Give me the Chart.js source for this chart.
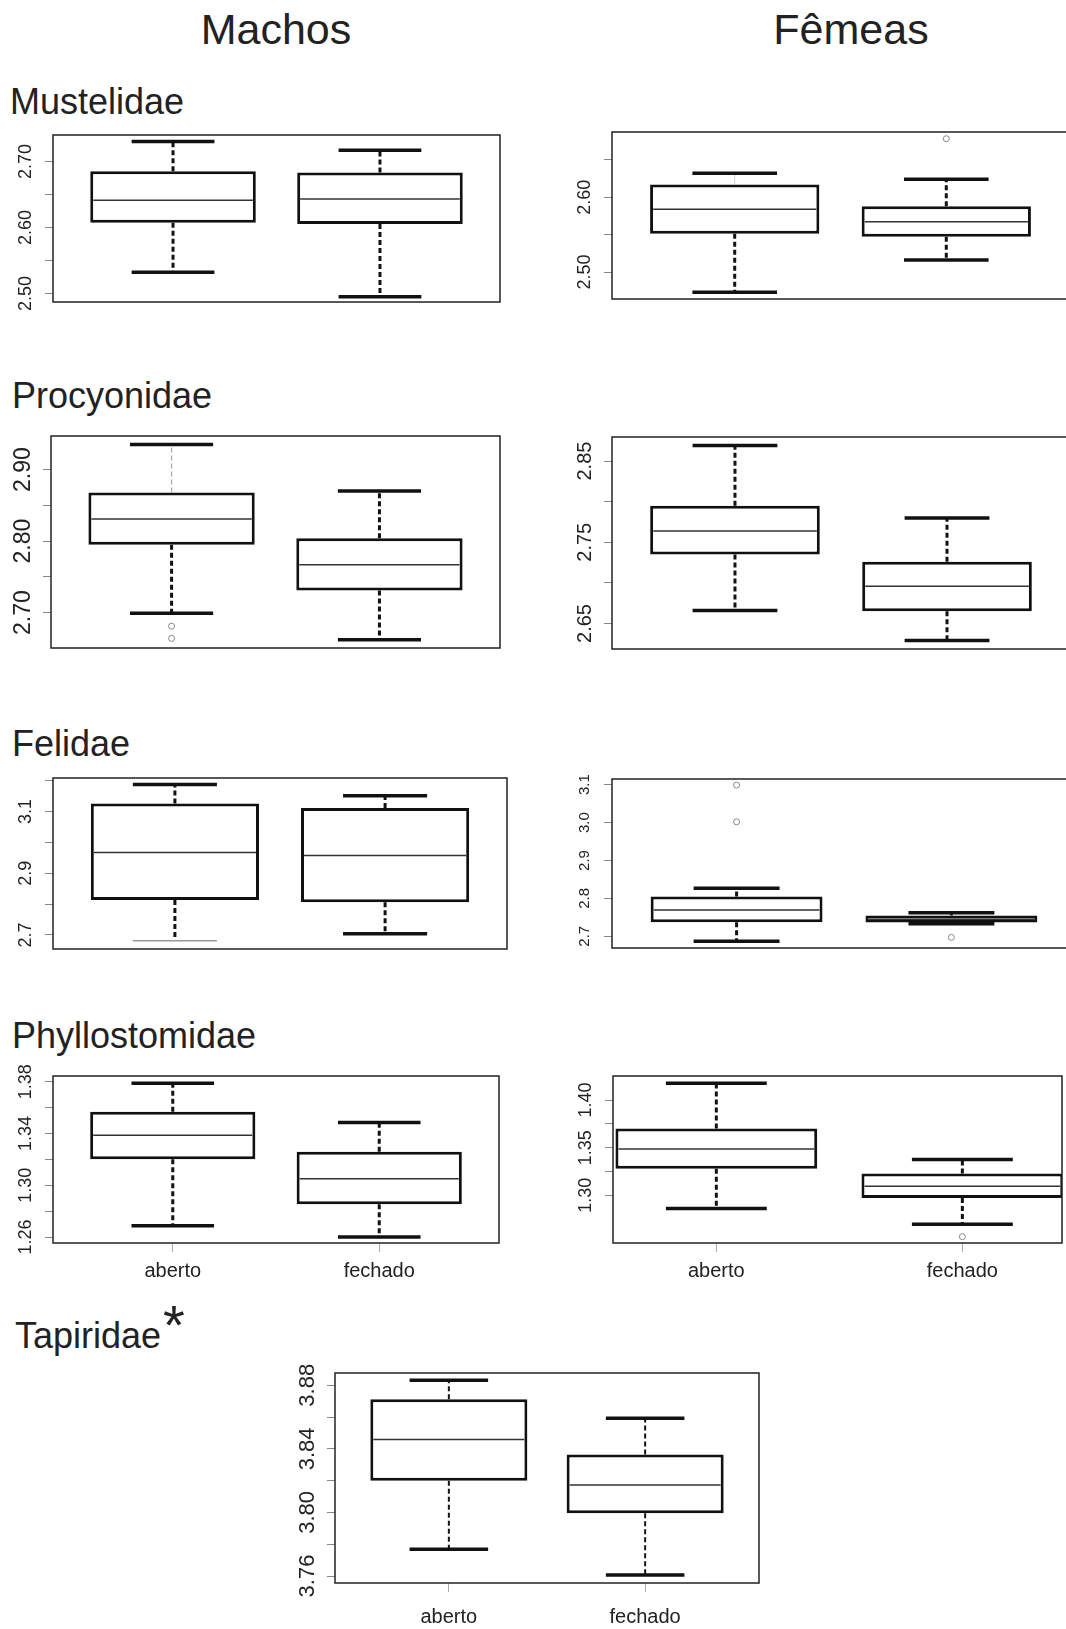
<!DOCTYPE html>
<html>
<head>
<meta charset="utf-8">
<script src="https://cdn.jsdelivr.net/npm/chart.js@4.4.1/dist/chart.umd.min.js"></script>
<style>
  html, body { margin: 0; padding: 0; background: #fff; width: 1066px; height: 1629px; overflow: hidden; }
  body { position: relative; font-family: 'Liberation Sans', Arial, sans-serif; color: #222; }
  .t { position: absolute; line-height: 1; white-space: nowrap; }
  .head { font-size: 43px; transform: translateX(-50%); }
  .fam { font-size: 36px; }
  canvas { position: absolute; }
</style>
</head>
<body>
<div class="t head" style="left:276px;top:8px">Machos</div>
<div class="t head" style="left:851px;top:8px">Fêmeas</div>
<div class="t fam" style="left:10px;top:84px">Mustelidae</div>
<div class="t fam" style="left:12px;top:378px">Procyonidae</div>
<div class="t fam" style="left:12px;top:726px">Felidae</div>
<div class="t fam" style="left:12px;top:1018px">Phyllostomidae</div>
<div class="t fam" style="left:15px;top:1318px">Tapiridae</div>
<div class="t" style="left:163px;top:1297px;font-size:56px">*</div>

<script>
const groups = ['aberto', 'fechado'];

// each box: [lower whisker, Q1, median, Q3, upper whisker]
const mustMachos = [[2.532, 2.607, 2.641, 2.685, 2.730], [2.495, 2.605, 2.643, 2.683, 2.717]];
const mustMachosOut = [[], []];
const mustMachosTicks = [2.50, 2.55, 2.60, 2.65, 2.70];
const mustMachosLabels = ['2.50', '', '2.60', '', '2.70'];
const mustMachosRange = [2.487, 2.740];

const mustFemeas = [[2.473, 2.551, 2.584, 2.617, 2.632], [2.516, 2.547, 2.567, 2.588, 2.624]];
const mustFemeasOut = [[], [2.678]];
const mustFemeasTicks = [2.50, 2.55, 2.60, 2.65];
const mustFemeasLabels = ['2.50', '', '2.60', ''];
const mustFemeasRange = [2.464, 2.687];

const procMachos = [[2.699, 2.795, 2.831, 2.868, 2.935], [2.662, 2.731, 2.767, 2.804, 2.870]];
const procMachosOut = [[2.681, 2.664], []];
const procMachosTicks = [2.70, 2.75, 2.80, 2.85, 2.90];
const procMachosLabels = ['2.70', '', '2.80', '', '2.90'];
const procMachosRange = [2.6505, 2.947];

const procFemeas = [[2.666, 2.735, 2.764, 2.795, 2.869], [2.629, 2.665, 2.696, 2.726, 2.780]];
const procFemeasOut = [[], []];
const procFemeasTicks = [2.65, 2.70, 2.75, 2.80, 2.85];
const procFemeasLabels = ['2.65', '', '2.75', '', '2.85'];
const procFemeasRange = [2.6186, 2.8796];

const feliMachos = [[2.681, 2.813, 2.967, 3.126, 3.187], [2.704, 2.806, 2.957, 3.111, 3.151]];
const feliMachosOut = [[], []];
const feliMachosTicks = [2.7, 2.8, 2.9, 3.0, 3.1, 3.2];
const feliMachosLabels = ['2.7', '', '2.9', '', '3.1', ''];
const feliMachosRange = [2.6545, 3.2084];

const feliFemeas = [[2.687, 2.737, 2.769, 2.805, 2.827], [2.733, 2.736, 2.745, 2.755, 2.762]];
const feliFemeasOut = [[3.099, 3.002], [2.697]];
const feliFemeasTicks = [2.7, 2.8, 2.9, 3.0, 3.1];
const feliFemeasLabels = ['2.7', '2.8', '2.9', '3.0', '3.1'];
const feliFemeasRange = [2.669, 3.115];

const phylMachos = [[1.2688, 1.3201, 1.3387, 1.3568, 1.3788], [1.2600, 1.2854, 1.3051, 1.3259, 1.3485]];
const phylMachosOut = [[], []];
const phylMachosTicks = [1.26, 1.28, 1.30, 1.32, 1.34, 1.36, 1.38];
const phylMachosLabels = ['1.26', '', '1.30', '', '1.34', '', '1.38'];
const phylMachosRange = [1.2554, 1.3844];

const phylFemeas = [[1.286, 1.3277, 1.3486, 1.370, 1.4176], [1.2694, 1.2972, 1.3094, 1.3228, 1.3376]];
const phylFemeasOut = [[], [1.2565]];
const phylFemeasTicks = [1.300, 1.325, 1.350, 1.375, 1.400];
const phylFemeasLabels = ['1.30', '', '1.35', '', '1.40'];
const phylFemeasRange = [1.2498, 1.4253];

const tapiAmbos = [[3.7768, 3.8199, 3.8459, 3.8712, 3.8831], [3.7606, 3.7994, 3.8172, 3.8365, 3.8592]];
const tapiAmbosOut = [[], []];
const tapiAmbosTicks = [3.76, 3.78, 3.80, 3.82, 3.84, 3.86, 3.88];
const tapiAmbosLabels = ['3.76', '', '3.80', '', '3.84', '', '3.88'];
const tapiAmbosRange = [3.7556, 3.8877];

const FONT = "'Liberation Sans', Arial, sans-serif";
const TOP_SPACE = 28;

// layout: plot = [left, top, right, bottom] of the framed area on the page
const panels = [
  { stats: mustMachos, out: mustMachosOut, ticks: mustMachosTicks, labels: mustMachosLabels, range: mustMachosRange,
    plot: [53, 135, 500, 302], tickFont: 18 },
  { stats: mustFemeas, out: mustFemeasOut, ticks: mustFemeasTicks, labels: mustFemeasLabels, range: mustFemeasRange,
    plot: [612, 132, 1069, 299], tickFont: 18,
    faint: [{ i: 0, part: 'hiWhisker', w: 1, color: '#cfcfcf', dash: [] }] },
  { stats: procMachos, out: procMachosOut, ticks: procMachosTicks, labels: procMachosLabels, range: procMachosRange,
    plot: [51, 436, 500, 648], tickFont: 23,
    faint: [{ i: 0, part: 'hiWhisker', w: 1.2, color: '#aaa', dash: [5, 3] }] },
  { stats: procFemeas, out: procFemeasOut, ticks: procFemeasTicks, labels: procFemeasLabels, range: procFemeasRange,
    plot: [612, 437, 1070, 649], tickFont: 20 },
  { stats: feliMachos, out: feliMachosOut, ticks: feliMachosTicks, labels: feliMachosLabels, range: feliMachosRange,
    plot: [53, 778, 507, 949], tickFont: 18,
    faint: [{ i: 0, part: 'loCap', w: 1.5, color: '#999', dash: [] }] },
  { stats: feliFemeas, out: feliFemeasOut, ticks: feliFemeasTicks, labels: feliFemeasLabels, range: feliFemeasRange,
    plot: [612, 779, 1076, 948], tickFont: 15 },
  { stats: phylMachos, out: phylMachosOut, ticks: phylMachosTicks, labels: phylMachosLabels, range: phylMachosRange,
    plot: [53, 1076, 499, 1243], tickFont: 18, xLabels: true },
  { stats: phylFemeas, out: phylFemeasOut, ticks: phylFemeasTicks, labels: phylFemeasLabels, range: phylFemeasRange,
    plot: [613, 1076, 1062, 1243], tickFont: 18, xLabels: true, xRange: [0.58, 2.405], boxFrac: 0.82 },
  { stats: tapiAmbos, out: tapiAmbosOut, ticks: tapiAmbosTicks, labels: tapiAmbosLabels, range: tapiAmbosRange,
    plot: [335, 1373, 759, 1583], tickFont: 22, xLabels: true, xLabelPad: 13, whiskerW: 2 }
];

const measure = document.createElement('canvas').getContext('2d');

// whiskers, caps, medians and outliers, placed through the chart's own scales
function boxParts(p) {
  return {
    id: 'boxParts',
    afterDatasetsDraw(chart) {
      const ctx = chart.ctx;
      const y = chart.scales.y, x = chart.scales.x;
      const bars = chart.getDatasetMeta(0).data;
      const faint = p.faint || [];
      const seg = (x1, y1, x2, y2, st) => {
        ctx.beginPath();
        ctx.setLineDash(st.dash);
        ctx.lineWidth = st.w;
        ctx.strokeStyle = st.color;
        ctx.moveTo(x1, y1);
        ctx.lineTo(x2, y2);
        ctx.stroke();
      };
      ctx.save();
      p.stats.forEach((s, i) => {
        const [lo, q1, med, q3, hi] = s;
        const cx = bars[i].x, half = bars[i].width / 2;
        const pick = (part, def) => faint.find(f => f.i === i && f.part === part) || def;
        const wStyle = { w: p.whiskerW || 3, color: '#111', dash: [5, 3] };
        const cStyle = { w: 3.5, color: '#111', dash: [] };
        seg(cx, y.getPixelForValue(q3), cx, y.getPixelForValue(hi), pick('hiWhisker', wStyle));
        seg(cx, y.getPixelForValue(q1), cx, y.getPixelForValue(lo), pick('loWhisker', wStyle));
        seg(cx - half / 2, y.getPixelForValue(hi), cx + half / 2, y.getPixelForValue(hi), pick('hiCap', cStyle));
        seg(cx - half / 2, y.getPixelForValue(lo), cx + half / 2, y.getPixelForValue(lo), pick('loCap', cStyle));
        seg(cx - half + 3, y.getPixelForValue(med), cx + half - 3, y.getPixelForValue(med), { w: 1.5, color: '#333', dash: [] });
        ctx.setLineDash([]);
        ctx.lineWidth = 1;
        ctx.strokeStyle = '#888';
        p.out[i].forEach(v => {
          ctx.beginPath();
          ctx.arc(x.getPixelForValue(i + 1), y.getPixelForValue(v), 3, 0, Math.PI * 2);
          ctx.stroke();
        });
      });
      ctx.restore();
    },
    afterDraw(chart) {
      const a = chart.chartArea, ctx = chart.ctx;
      ctx.save();
      ctx.lineWidth = 1.5;
      ctx.strokeStyle = '#222';
      ctx.strokeRect(a.left, a.top, a.right - a.left, a.bottom - a.top);
      ctx.restore();
    }
  };
}

panels.forEach(p => {
  const [L, T, R, B] = p.plot;
  const bottomSpace = p.xLabels ? 48 : 24;
  const cv = document.createElement('canvas');
  cv.width = R - L + 58;
  cv.height = B - T + TOP_SPACE + bottomSpace;
  cv.style.left = (L - 50) + 'px';
  cv.style.top = (T - TOP_SPACE) + 'px';
  document.body.appendChild(cv);

  measure.font = p.tickFont + 'px ' + FONT;
  const widest = Math.max(...p.labels.map(l => measure.measureText(l).width));
  const xr = p.xRange || [0.42, 2.58];

  new Chart(cv, {
    type: 'bar',
    data: {
      datasets: [{
        data: p.stats.map((s, i) => ({ x: i + 1, y: [s[1], s[3]] })),
        backgroundColor: '#fff',
        borderColor: '#111',
        borderWidth: 3,
        borderSkipped: false,
        barPercentage: p.boxFrac || 0.8,
        categoryPercentage: 1
      }]
    },
    options: {
      responsive: false,
      animation: false,
      layout: { padding: { top: TOP_SPACE, right: 8, left: 0, bottom: 0 } },
      plugins: { legend: { display: false }, tooltip: { enabled: false } },
      scales: {
        x: {
          type: 'linear',
          min: xr[0],
          max: xr[1],
          offset: false,
          display: !!p.xLabels,
          afterBuildTicks: s => { s.ticks = groups.map((g, i) => ({ value: i + 1 })); },
          afterFit: s => { s.height = bottomSpace; s.paddingLeft = 0; s.paddingRight = 0; },
          grid: { drawOnChartArea: false, offset: false, tickLength: 9, tickColor: '#aaa' },
          border: { display: false },
          ticks: {
            autoSkip: false, maxRotation: 0, padding: p.xLabelPad || 7,
            font: { size: 20, family: FONT }, color: '#222',
            callback: (v, i) => groups[i]
          }
        },
        y: {
          min: p.range[0],
          max: p.range[1],
          beginAtZero: false,
          afterBuildTicks: s => { s.ticks = p.ticks.map(v => ({ value: v })); },
          afterFit: s => { s.width = 50; s.paddingTop = 0; s.paddingBottom = 0; },
          grid: { drawOnChartArea: false, tickLength: 8, tickColor: '#888' },
          border: { display: false },
          ticks: {
            autoSkip: false, minRotation: 90, maxRotation: 90, crossAlign: 'center',
            padding: 27 - 8 - widest / 2,
            font: { size: p.tickFont, family: FONT }, color: '#222',
            callback: (v, i) => p.labels[i]
          }
        }
      }
    },
    plugins: [boxParts(p)]
  });
});
</script>
</body>
</html>
